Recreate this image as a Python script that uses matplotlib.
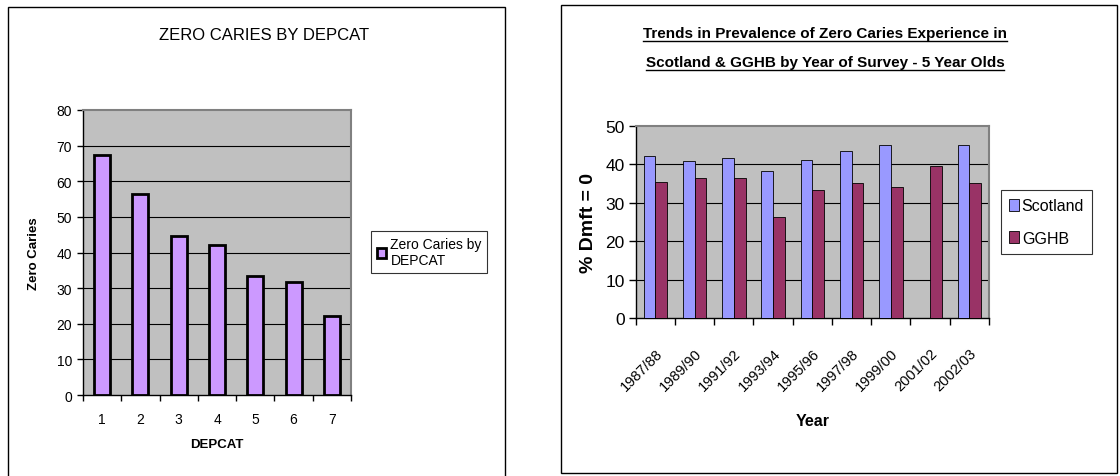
import numpy as np
import matplotlib
matplotlib.use('Agg')
import matplotlib.pyplot as plt
import matplotlib.patches as patches
from matplotlib.lines import Line2D

# left chart data
depcat = ['1', '2', '3', '4', '5', '6', '7']
zero_caries = [67.4, 56.5, 44.7, 42.2, 33.5, 31.7, 22.3]

# right chart data
years = ['1987/88', '1989/90', '1991/92', '1993/94', '1995/96',
         '1997/98', '1999/00', '2001/02', '2002/03']
scotland = [42.1, 40.8, 41.6, 38.2, 41.2, 43.4, 45.1, np.nan, 45.1]
gghb = [35.5, 36.5, 36.5, 26.4, 33.4, 35.2, 34.2, 39.5, 35.2]

plt.rcParams['font.family'] = ['Liberation Sans', 'DejaVu Sans']

W, H = 1120, 477
fig = plt.figure(figsize=(W / 100, H / 100), dpi=100)
fig.patch.set_facecolor('white')


def fx(px):
    return px / W


def fy(py):
    return 1 - py / H


# outer chart frames
fig.add_artist(patches.Rectangle((fx(8), fy(490)), fx(505) - fx(8), fy(8) - fy(490),
                                 transform=fig.transFigure, fill=False, ec='black', lw=1))
fig.add_artist(patches.Rectangle((fx(561), fy(474)), fx(1117) - fx(561), fy(6) - fy(474),
                                 transform=fig.transFigure, fill=False, ec='black', lw=1))


def style_axes(ax, n, ymax, step):
    ax.set_facecolor('#C0C0C0')
    ax.set_xlim(-0.5, n - 0.5)
    ax.set_ylim(0, ymax)
    ax.set_yticks(np.arange(0, ymax + 1, step))
    for y in np.arange(step, ymax, step):
        ax.axhline(y, color='black', lw=0.8, zorder=1)
    for s in ['top', 'right']:
        ax.spines[s].set_color('#808080')
        ax.spines[s].set_linewidth(1.5)
    for s in ['left', 'bottom']:
        ax.spines[s].set_color('black')
        ax.spines[s].set_linewidth(1)
    ax.set_xticks(np.arange(n))
    ax.set_xticks(np.arange(-0.5, n, 1), minor=True)
    ax.tick_params(axis='x', which='major', length=0)
    ax.tick_params(axis='x', which='minor', length=4, width=1, direction='out')
    ax.tick_params(axis='y', length=4, width=1, direction='out')


# ---- left chart ----
ax1 = fig.add_axes([fx(83), fy(396), fx(351) - fx(83), fy(111) - fy(396)])
style_axes(ax1, len(depcat), 80, 10)
x1 = np.arange(len(depcat))
ax1.bar(x1, zero_caries, width=0.42, color='#CC99FF', edgecolor='black', lw=2,
        zorder=3, label='Zero Caries by\nDEPCAT')
ax1.set_xticklabels(depcat, fontsize=10)
ax1.tick_params(axis='x', which='major', pad=12)
ax1.tick_params(axis='y', labelsize=10, pad=4)
ax1.set_xlabel('DEPCAT', fontsize=9.5, fontweight='bold', labelpad=9)
ax1.set_ylabel('Zero Caries', fontsize=9.5, fontweight='bold', labelpad=12)
fig.text(fx(264), fy(35), 'ZERO CARIES BY DEPCAT', ha='center', va='center',
         fontsize=12)
leg1 = ax1.legend(loc='center left', bbox_to_anchor=(fx(371), fy(253)),
                  bbox_transform=fig.transFigure, fontsize=10, frameon=True,
                  fancybox=False, edgecolor='black', handlelength=0.7,
                  handleheight=0.7, handletextpad=0.3, borderpad=0.4,
                  borderaxespad=0)
leg1.get_frame().set_linewidth(0.8)

# ---- right chart ----
ax2 = fig.add_axes([fx(635.7), fy(319), fx(989) - fx(635.7), fy(127) - fy(319)])
style_axes(ax2, len(years), 50, 10)
x2 = np.arange(len(years))
bw = 0.3
ax2.bar(x2 - bw / 2, scotland, width=bw, color='#9999FF', edgecolor='black', lw=0.6,
        zorder=3, label='Scotland')
ax2.bar(x2 + bw / 2, gghb, width=bw, color='#993366', edgecolor='black', lw=0.6,
        zorder=3, label='GGHB')
ax2.tick_params(axis='x', which='minor', length=5)
ax2.tick_params(axis='y', length=5)
ax2.set_xticklabels(years, rotation=45, ha='right', rotation_mode='anchor',
                    fontsize=10.5)
ax2.tick_params(axis='x', which='major', pad=20)
ax2.tick_params(axis='y', labelsize=12.5, pad=3)
ax2.set_xlabel('Year', fontsize=11.5, fontweight='bold', labelpad=14)
ax2.set_ylabel('% Dmft = 0', fontsize=14, fontweight='bold', labelpad=6)
leg2 = ax2.legend(loc='center left', bbox_to_anchor=(fx(1001), fy(223)),
                  bbox_transform=fig.transFigure, fontsize=11.5,
                  frameon=True, fancybox=False, edgecolor='black', handlelength=0.6,
                  handleheight=0.8, handletextpad=0.2, borderpad=0.5, labelspacing=1.1,
                  borderaxespad=0)
leg2.get_frame().set_linewidth(0.8)

title_lines = ['Trends in Prevalence of Zero Caries Experience in',
               'Scotland & GGHB by Year of Survey - 5 Year Olds']
title_texts = []
for line, yy in zip(title_lines, [34, 63]):
    title_texts.append(fig.text(fx(825), fy(yy), line, ha='center', va='center',
                                fontsize=11, fontweight='bold'))

# underline the right title
fig.canvas.draw()
renderer = fig.canvas.get_renderer()
for t in title_texts:
    bb = t.get_window_extent(renderer)
    yl = bb.y0 - 1
    fig.add_artist(Line2D([bb.x0 / W, bb.x1 / W], [yl / H, yl / H],
                          transform=fig.transFigure, color='black', lw=1))

fig.savefig('out.png', dpi=100)
